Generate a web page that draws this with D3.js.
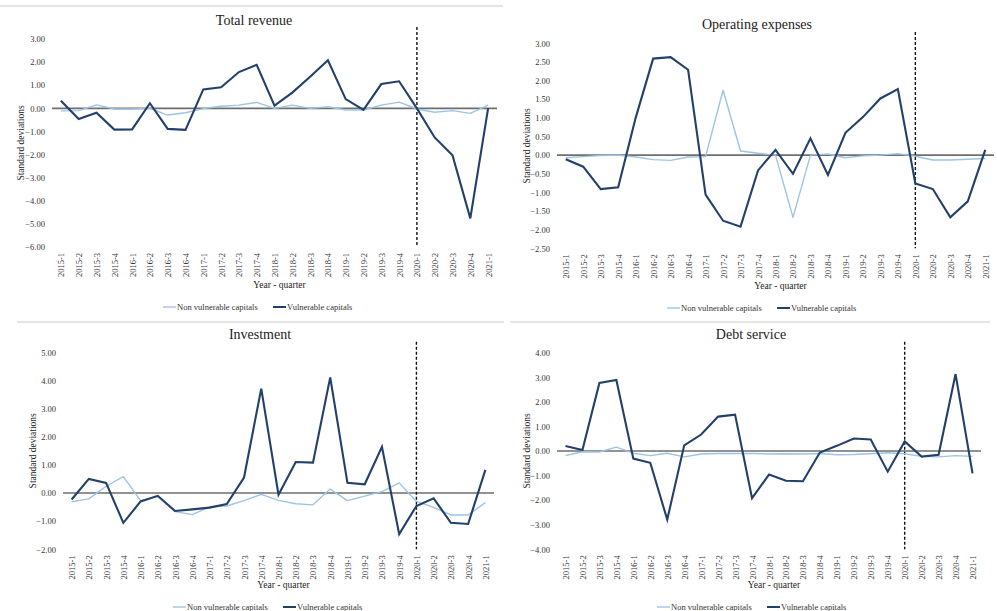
<!DOCTYPE html>
<html>
<head>
<meta charset="utf-8">
<script src="https://cdn.jsdelivr.net/npm/d3@7"></script>
<style>
  html, body { margin: 0; padding: 0; background: #fff; }
  svg { display: block; }
  svg text { font-family: "Liberation Serif", "Times New Roman", "DejaVu Serif", serif !important; }
</style>
</head>
<body>
<svg id="chart" width="997" height="611"></svg>
<script>
// Quarters on the horizontal axis
const quarters = ["2015-1","2015-2","2015-3","2015-4","2016-1","2016-2","2016-3","2016-4",
  "2017-1","2017-2","2017-3","2017-4","2018-1","2018-2","2018-3","2018-4",
  "2019-1","2019-2","2019-3","2019-4","2020-1","2020-2","2020-3","2020-4","2021-1"];

// Series names
const seriesNames = ["Non vulnerable capitals", "Vulnerable capitals"];

// Total revenue (standard deviations)
const revenueNonVulnerable = [-0.11,-0.10,0.15,-0.03,-0.03,0.00,-0.29,-0.19,-0.01,0.09,0.14,0.26,
  0.00,0.14,0.00,0.07,-0.07,-0.07,0.14,0.27,-0.03,-0.17,-0.10,-0.22,0.14];
const revenueVulnerable = [0.33,-0.46,-0.19,-0.92,-0.91,0.22,-0.89,-0.93,0.82,0.91,1.57,1.88,
  0.12,0.68,1.37,2.08,0.40,-0.07,1.05,1.17,0.00,-1.26,-2.03,-4.76,0.00];

// Operating expenses
const opexNonVulnerable = [-0.07,-0.04,-0.01,0.00,-0.05,-0.12,-0.14,-0.05,-0.04,1.74,0.11,0.05,
  0.00,-1.67,0.00,0.03,-0.07,-0.02,0.00,0.04,-0.03,-0.13,-0.13,-0.11,-0.09];
const opexVulnerable = [-0.11,-0.31,-0.91,-0.86,1.00,2.59,2.63,2.29,-1.06,-1.76,-1.92,-0.41,
  0.14,-0.50,0.45,-0.53,0.60,1.02,1.52,1.77,-0.76,-0.91,-1.67,-1.24,0.14];

// Investment
const investNonVulnerable = [-0.31,-0.21,0.24,0.58,-0.27,-0.13,-0.66,-0.77,-0.49,-0.46,-0.27,-0.05,
  -0.26,-0.38,-0.42,0.14,-0.27,-0.11,0.05,0.36,-0.30,-0.51,-0.78,-0.78,-0.34];
const investVulnerable = [-0.23,0.50,0.36,-1.06,-0.30,-0.10,-0.64,-0.58,-0.52,-0.39,0.55,3.71,
  -0.06,1.10,1.08,4.11,0.36,0.31,1.64,-1.46,-0.46,-0.19,-1.06,-1.10,0.82];

// Debt service
const debtNonVulnerable = [-0.19,-0.03,-0.04,0.16,-0.09,-0.19,-0.09,-0.24,-0.12,-0.10,-0.10,-0.10,
  -0.12,-0.11,-0.12,-0.10,-0.15,-0.14,-0.11,-0.07,-0.11,-0.22,-0.24,-0.19,-0.22];
const debtVulnerable = [0.20,0.04,2.77,2.89,-0.31,-0.48,-2.79,0.23,0.67,1.40,1.48,-1.92,
  -0.96,-1.21,-1.23,-0.06,0.21,0.51,0.47,-0.84,0.39,-0.23,-0.15,3.13,-0.91];

// Vertical tick values for each panel
const revenueTicks = [3,2,1,0,-1,-2,-3,-4,-5,-6];
const opexTicks = [3,2.5,2,1.5,1,0.5,0,-0.5,-1,-1.5,-2,-2.5];
const investTicks = [5,4,3,2,1,0,-1,-2];
const debtTicks = [4,3,2,1,0,-1,-2,-3,-4];

// Marker quarter for the dashed reference line
const markerQuarter = "2020-1";

const panels = [
  { title: "Total revenue", nonVuln: revenueNonVulnerable, vuln: revenueVulnerable, ticks: revenueTicks,
    left: 52, right: 497, top: 39, bottom: 247, titleX: 254, titleY: 25, yTitleX: 21,
    xTitleY: 288, legendY: 307, legendX: 163, dashTop: 27 },
  { title: "Operating expenses", nonVuln: opexNonVulnerable, vuln: opexVulnerable, ticks: opexTicks,
    left: 557, right: 994, top: 43.3, bottom: 248.3, titleX: 757, titleY: 29, yTitleX: 527,
    xTitleY: 289, legendY: 308, legendX: 667, dashTop: 32 },
  { title: "Investment", nonVuln: investNonVulnerable, vuln: investVulnerable, ticks: investTicks,
    left: 63, right: 494, top: 352.3, bottom: 549.3, titleX: 260, titleY: 339, yTitleX: 33,
    xTitleY: 588, legendY: 607, legendX: 173, dashTop: 341.7 },
  { title: "Debt service", nonVuln: debtNonVulnerable, vuln: debtVulnerable, ticks: debtTicks,
    left: 557, right: 981, top: 352.7, bottom: 549.3, titleX: 751, titleY: 339, yTitleX: 527,
    xTitleY: 588, legendY: 607, legendX: 657, dashTop: 341.7 }
];

const colors = { nonVuln: "#9dc3e6", vuln: "#22406a", zero: "#6e6e6e", text: "#333" };
const serif = "'Liberation Serif', 'Times New Roman', 'DejaVu Serif', serif";

const svg = d3.select("#chart").attr("font-family", serif);

// Thin frame lines separating the panels
const frames = [[0, 6, 503, 6], [17, 322, 504, 322], [510, 322, 990, 322]];
svg.selectAll("line.frame").data(frames).join("line")
  .attr("class", "frame")
  .attr("x1", d => d[0]).attr("y1", d => d[1]).attr("x2", d => d[2]).attr("y2", d => d[3])
  .attr("stroke", "#c8c8c8").attr("stroke-width", 1);

panels.forEach(p => {
  const g = svg.append("g");
  const x = d3.scalePoint().domain(quarters).range([p.left, p.right]).padding(0.5);
  const y = d3.scaleLinear().domain([d3.min(p.ticks), d3.max(p.ticks)]).range([p.bottom, p.top]);

  // Title
  g.append("text").attr("x", p.titleX).attr("y", p.titleY)
    .attr("text-anchor", "middle").attr("font-size", 14).attr("fill", "#222")
    .text(p.title);

  // Vertical axis labels
  const yAxis = d3.axisLeft(y).tickValues(p.ticks).tickSize(0).tickPadding(7)
    .tickFormat(d3.format(".2f"));
  const ya = g.append("g").attr("transform", `translate(${p.left},0)`).call(yAxis)
    .attr("font-family", serif);
  ya.select(".domain").remove();
  ya.selectAll("text").attr("font-size", 8.5).attr("fill", colors.text);

  // Horizontal axis labels, rotated
  const xAxis = d3.axisBottom(x).tickSize(0).tickPadding(0);
  const xa = g.append("g").attr("transform", `translate(0,${p.bottom})`).call(xAxis)
    .attr("font-family", serif);
  xa.select(".domain").remove();
  xa.selectAll("text")
    .attr("font-size", 8.5).attr("fill", colors.text)
    .attr("text-anchor", "end")
    .attr("dy", null)
    .attr("transform", "translate(3,6) rotate(-90)");

  // Axis titles
  g.append("text")
    .attr("transform", `translate(${p.yTitleX},${(p.top + p.bottom) / 2}) rotate(-90)`)
    .attr("text-anchor", "middle").attr("dy", "0.35em")
    .attr("font-size", 9.5).attr("fill", "#222").text("Standard deviations");
  g.append("text").attr("x", (p.left + p.right) / 2 + 5).attr("y", p.xTitleY)
    .attr("text-anchor", "middle").attr("font-size", 9.5).attr("fill", "#222")
    .text("Year - quarter");

  // Zero line
  g.append("line").attr("x1", p.left).attr("x2", p.right)
    .attr("y1", y(0)).attr("y2", y(0))
    .attr("stroke", colors.zero).attr("stroke-width", 1.6);

  // Dashed reference line
  g.append("line").attr("x1", x(markerQuarter)).attr("x2", x(markerQuarter))
    .attr("y1", p.dashTop).attr("y2", p.bottom)
    .attr("stroke", "#111").attr("stroke-width", 1.4).attr("stroke-dasharray", "3,2");

  const line = d3.line().x((d, i) => x(quarters[i])).y(d => y(d));

  g.append("path").datum(p.nonVuln).attr("d", line)
    .attr("fill", "none").attr("stroke", colors.nonVuln).attr("stroke-width", 1.4)
    .attr("stroke-linejoin", "round");
  g.append("path").datum(p.vuln).attr("d", line)
    .attr("fill", "none").attr("stroke", colors.vuln).attr("stroke-width", 2.1)
    .attr("stroke-linejoin", "miter");

  // Legend
  const lg = g.append("g").attr("transform", `translate(${p.legendX},${p.legendY})`);
  const items = [
    { name: seriesNames[0], color: colors.nonVuln, w: 1.4, dx: 0 },
    { name: seriesNames[1], color: colors.vuln, w: 2, dx: 110 }
  ];
  items.forEach(it => {
    lg.append("line").attr("x1", it.dx).attr("x2", it.dx + 13).attr("y1", 0).attr("y2", 0)
      .attr("stroke", it.color).attr("stroke-width", it.w);
    lg.append("text").attr("x", it.dx + 14).attr("y", 0).attr("dy", "0.33em")
      .attr("font-size", 8.5).attr("fill", colors.text).text(it.name);
  });
});
</script>
</body>
</html>
